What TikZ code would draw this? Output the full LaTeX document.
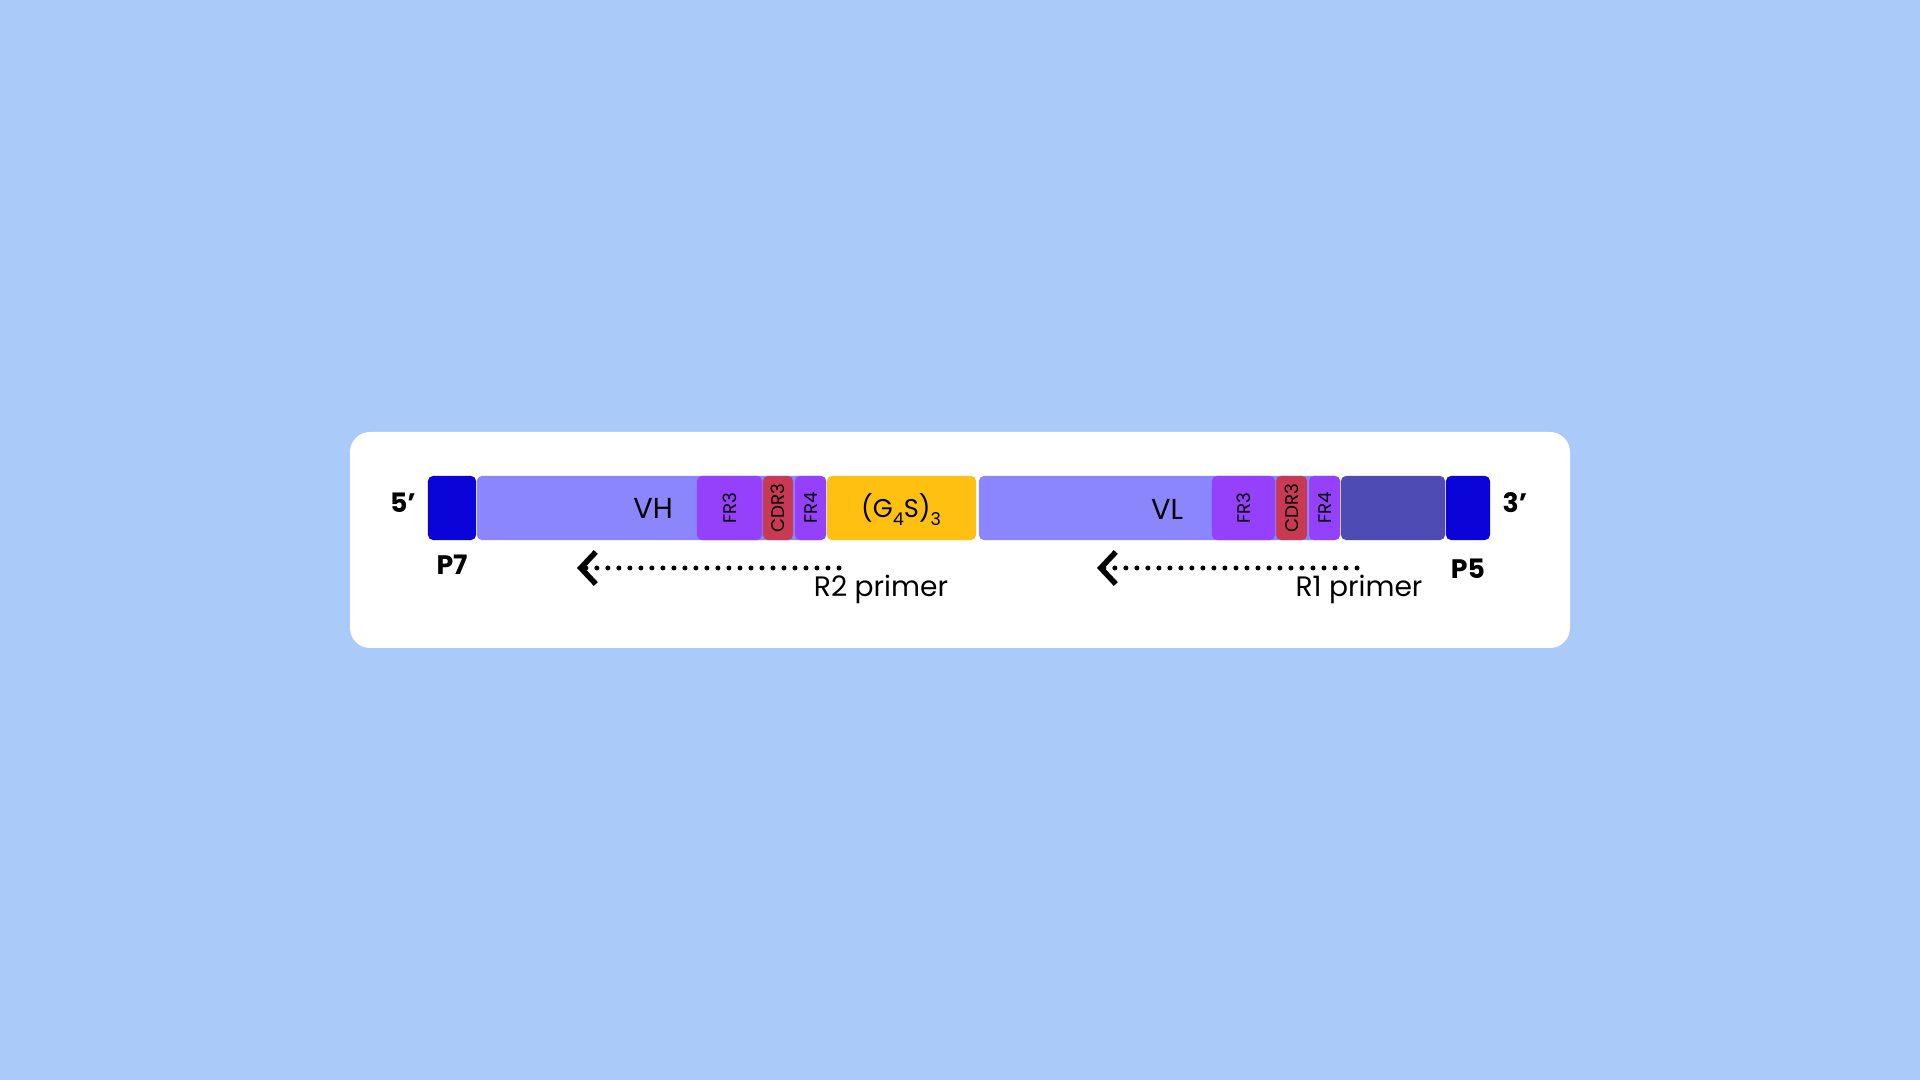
\documentclass[tikz,border=0pt]{standalone}
\usepackage{fontspec}
\setmainfont{Poppins}
\usetikzlibrary{arrows.meta}
\definecolor{bgblue}{RGB}{170,202,250}
\definecolor{pblue}{RGB}{11,4,216}
\definecolor{vpurple}{RGB}{139,134,251}
\definecolor{frpurple}{RGB}{149,64,250}
\definecolor{cdrred}{RGB}{200,58,84}
\definecolor{linkyellow}{RGB}{255,192,17}
\definecolor{slate}{RGB}{78,75,180}
\newcommand{\lowsub}[1]{\raisebox{-0.55ex}{\fontsize{5pt}{6pt}\selectfont #1}}
\tikzset{
  blk/.style={fill=#1, rounded corners=0.05cm, minimum height=0.64cm, inner sep=0pt},
  seg/.style={font=\fontsize{5.2pt}{6pt}\selectfont, rotate=90, inner sep=0pt},
  dlabel/.style={font=\fontsize{8.2pt}{10pt}\selectfont, inner sep=0pt, anchor=base},
  tag/.style={font=\bfseries\fontsize{7.6pt}{9pt}\selectfont, inner sep=0pt, anchor=base},
  plabel/.style={font=\fontsize{8pt}{9pt}\selectfont, inner sep=0pt, anchor=base},
  primer/.style={line width=0.05cm, line cap=round, dash pattern=on 0pt off 0.11cm,
    -{Straight Barb[length=0.15cm, width=0.32cm, line width=0.055cm]}}
}
\begin{document}
\begin{tikzpicture}[x=0.01cm, y=-0.01cm]
    \fill[bgblue] (0,0) rectangle (1920,1080);
    \fill[white, rounded corners=0.2cm] (350,432) rectangle (1570,648);
    % construct
    \node[blk=pblue, minimum width=0.48cm] (p7) at (452,508) {};
    \node[blk=vpurple, minimum width=3.49cm] (vh) at (651.5,508) {};
    \node[blk=frpurple, minimum width=0.65cm] (fr3h) at (729.5,508) {};
    \node[blk=cdrred, minimum width=0.30cm] (cdr3h) at (778,508) {};
    \node[blk=frpurple, minimum width=0.31cm] (fr4h) at (810.5,508) {};
    \node[blk=linkyellow, minimum width=1.49cm] (link) at (901.5,508) {};
    \node[blk=vpurple, minimum width=3.61cm] (vl) at (1159.5,508) {};
    \node[blk=frpurple, minimum width=0.63cm] (fr3l) at (1243.5,508) {};
    \node[blk=cdrred, minimum width=0.31cm] (cdr3l) at (1291.5,508) {};
    \node[blk=frpurple, minimum width=0.31cm] (fr4l) at (1324.5,508) {};
    \node[blk=slate, minimum width=1.04cm] (tail) at (1393,508) {};
    \node[blk=pblue, minimum width=0.44cm] (p5) at (1468,508) {};
    % labels
    \node[dlabel] (vhtxt) at (653,519) {VH};
    \node[dlabel] (vltxt) at (1167,520) {VL};
    \node[dlabel, font=\fontsize{7.3pt}{9pt}\selectfont] (linktxt) at (901,518) {(G\lowsub{4}S)\lowsub{3}};
    \foreach \s/\t in {fr3h/FR3,cdr3h/CDR3,fr4h/FR4,fr3l/FR3,cdr3l/CDR3,fr4l/FR4}
      \node[seg] at (\s) {\t};
    \node[tag] (five) at (403,513) {5’};
    \node[tag] (three) at (1515,513) {3’};
    \node[tag] (p7txt) at (452,575) {P7};
    \node[tag] (p5txt) at (1468,579) {P5};
    % primers
    \coordinate (r2s) at (839,568);
    \coordinate (r2e) at (577,568);
    \coordinate (r1s) at (1357,568);
    \coordinate (r1e) at (1097,568);
    \draw[primer] (r2s) -- (r2e);
    \draw[primer] (r1s) -- (r1e);
    \node[plabel] (r2txt) at (881,597) {R2 primer};
    \node[plabel] (r1txt) at (1359,597) {R1 primer};
\end{tikzpicture}
\end{document}
